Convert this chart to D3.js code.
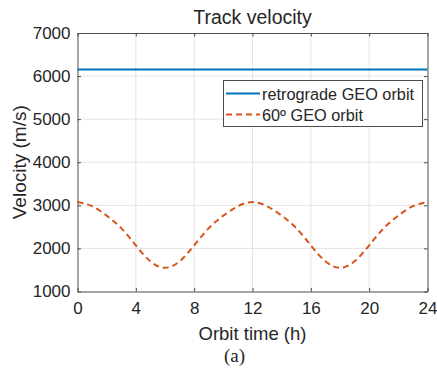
<!DOCTYPE html>
<html><head><meta charset="utf-8">
<script src="https://cdn.jsdelivr.net/npm/d3@7"></script>
<style>body{margin:0;background:#fff}svg{display:block}text{font-family:Arial,"Liberation Sans",Helvetica,sans-serif;fill:#262626}</style>
</head><body>
<script>
const timeHours = [0,1,2,3,4,5,6,7,8,9,10,11,12,13,14,15,16,17,18,19,20,21,22,23,24];
const retrogradeVel = [6150,6150,6150,6150,6150,6150,6150,6150,6150,6150,6150,6150,6150,6150,6150,6150,6150,6150,6150,6150,6150,6150,6150,6150,6150];
const geo60Vel = [3075,2980,2760,2470,2070,1700,1550,1700,2070,2470,2760,2980,3075,2980,2760,2470,2070,1700,1550,1700,2070,2470,2760,2980,3075];
const xTicks = [0,4,8,12,16,20,24];
const yTicks = [1000,2000,3000,4000,5000,6000,7000];
const seriesNames = ["retrograde GEO orbit","60º GEO orbit"];
const colors = ["#0072BD","#D95319"];

const W=437,H=368;
const m={l:77.5,r:9.5,t:33,b:76.5};
const svg=d3.select("body").append("svg").attr("width",W).attr("height",H);
const x=d3.scaleLinear().domain([0,24]).range([m.l,W-m.r]);
const y=d3.scaleLinear().domain([1000,7000]).range([H-m.b,m.t]);

// grid
const g=svg.append("g");
g.selectAll(".gx").data(xTicks.slice(1,-1)).enter().append("line")
 .attr("x1",d=>x(d)).attr("x2",d=>x(d)).attr("y1",y(1000)).attr("y2",y(7000))
 .attr("stroke","#e3e3e3").attr("stroke-width",1);
g.selectAll(".gy").data(yTicks.slice(1,-1)).enter().append("line")
 .attr("y1",d=>y(d)).attr("y2",d=>y(d)).attr("x1",x(0)).attr("x2",x(24))
 .attr("stroke","#e3e3e3").attr("stroke-width",1);

// axes
const fs="17px";
const xa=svg.append("g").attr("transform",`translate(0,${y(1000)})`)
 .call(d3.axisBottom(x).tickValues(xTicks).tickFormat(d3.format("d")).tickSizeInner(-3.5).tickSizeOuter(0).tickPadding(10));
const xt=svg.append("g").attr("transform",`translate(0,${y(7000)})`)
 .call(d3.axisTop(x).tickValues(xTicks).tickSizeInner(-3.5).tickSizeOuter(0).tickFormat(""));
const ya=svg.append("g").attr("transform",`translate(${x(0)},0)`)
 .call(d3.axisLeft(y).tickValues(yTicks).tickFormat(d3.format("d")).tickSizeInner(-3.5).tickSizeOuter(0).tickPadding(7));
const yr=svg.append("g").attr("transform",`translate(${x(24)},0)`)
 .call(d3.axisRight(y).tickValues(yTicks).tickSizeInner(-3.5).tickSizeOuter(0).tickFormat(""));
[xa,xt,ya,yr].forEach(a=>{
 a.select(".domain").attr("stroke","#4d4d4d").attr("stroke-width",1);
 a.selectAll(".tick line").attr("stroke","#4d4d4d");
 a.selectAll("text").style("font-size",fs).attr("fill","#262626").style("font-family","Arial, 'Liberation Sans', sans-serif");
});

// lines
const line=d3.line().x((d,i)=>x(timeHours[i])).y(d=>y(d)).curve(d3.curveNatural);
svg.append("path").datum(retrogradeVel).attr("d",line).attr("fill","none")
 .attr("stroke",colors[0]).attr("stroke-width",2);
svg.append("path").datum(geo60Vel).attr("d",line).attr("fill","none")
 .attr("stroke",colors[1]).attr("stroke-width",2).attr("stroke-dasharray","6,4");

// legend
const lg=svg.append("g");
lg.append("rect").attr("x",223.5).attr("y",80.5).attr("width",199).attr("height",46)
 .attr("fill","#fff").attr("stroke","#4d4d4d").attr("stroke-width",1);
seriesNames.forEach((n,i)=>{
 const yy=93.5+i*21;
 lg.append("line").attr("x1",226).attr("x2",260).attr("y1",yy).attr("y2",yy)
  .attr("stroke",colors[i]).attr("stroke-width",2).attr("stroke-dasharray",i?"6,4":null);
 lg.append("text").attr("x",262).attr("y",yy+6).style("font-size","16.3px").text(n);
});

// titles
svg.append("text").attr("x",(x(0)+x(24))/2).attr("y",24).attr("text-anchor","middle")
 .style("font-size","19.5px").text("Track velocity");
svg.append("text").attr("x",(x(0)+x(24))/2).attr("y",340).attr("text-anchor","middle")
 .style("font-size","18.5px").text("Orbit time (h)");
svg.append("text").attr("transform",`translate(26,${(y(1000)+y(7000))/2}) rotate(-90)`)
 .attr("text-anchor","middle").style("font-size","19px").text("Velocity (m/s)");
svg.append("text").attr("x",234.5).attr("y",362).attr("text-anchor","middle")
 .style("font-size","19px").style("font-family","'Liberation Serif','Times New Roman',serif").attr("fill","#000").text("(a)");
</script>
</body></html>
